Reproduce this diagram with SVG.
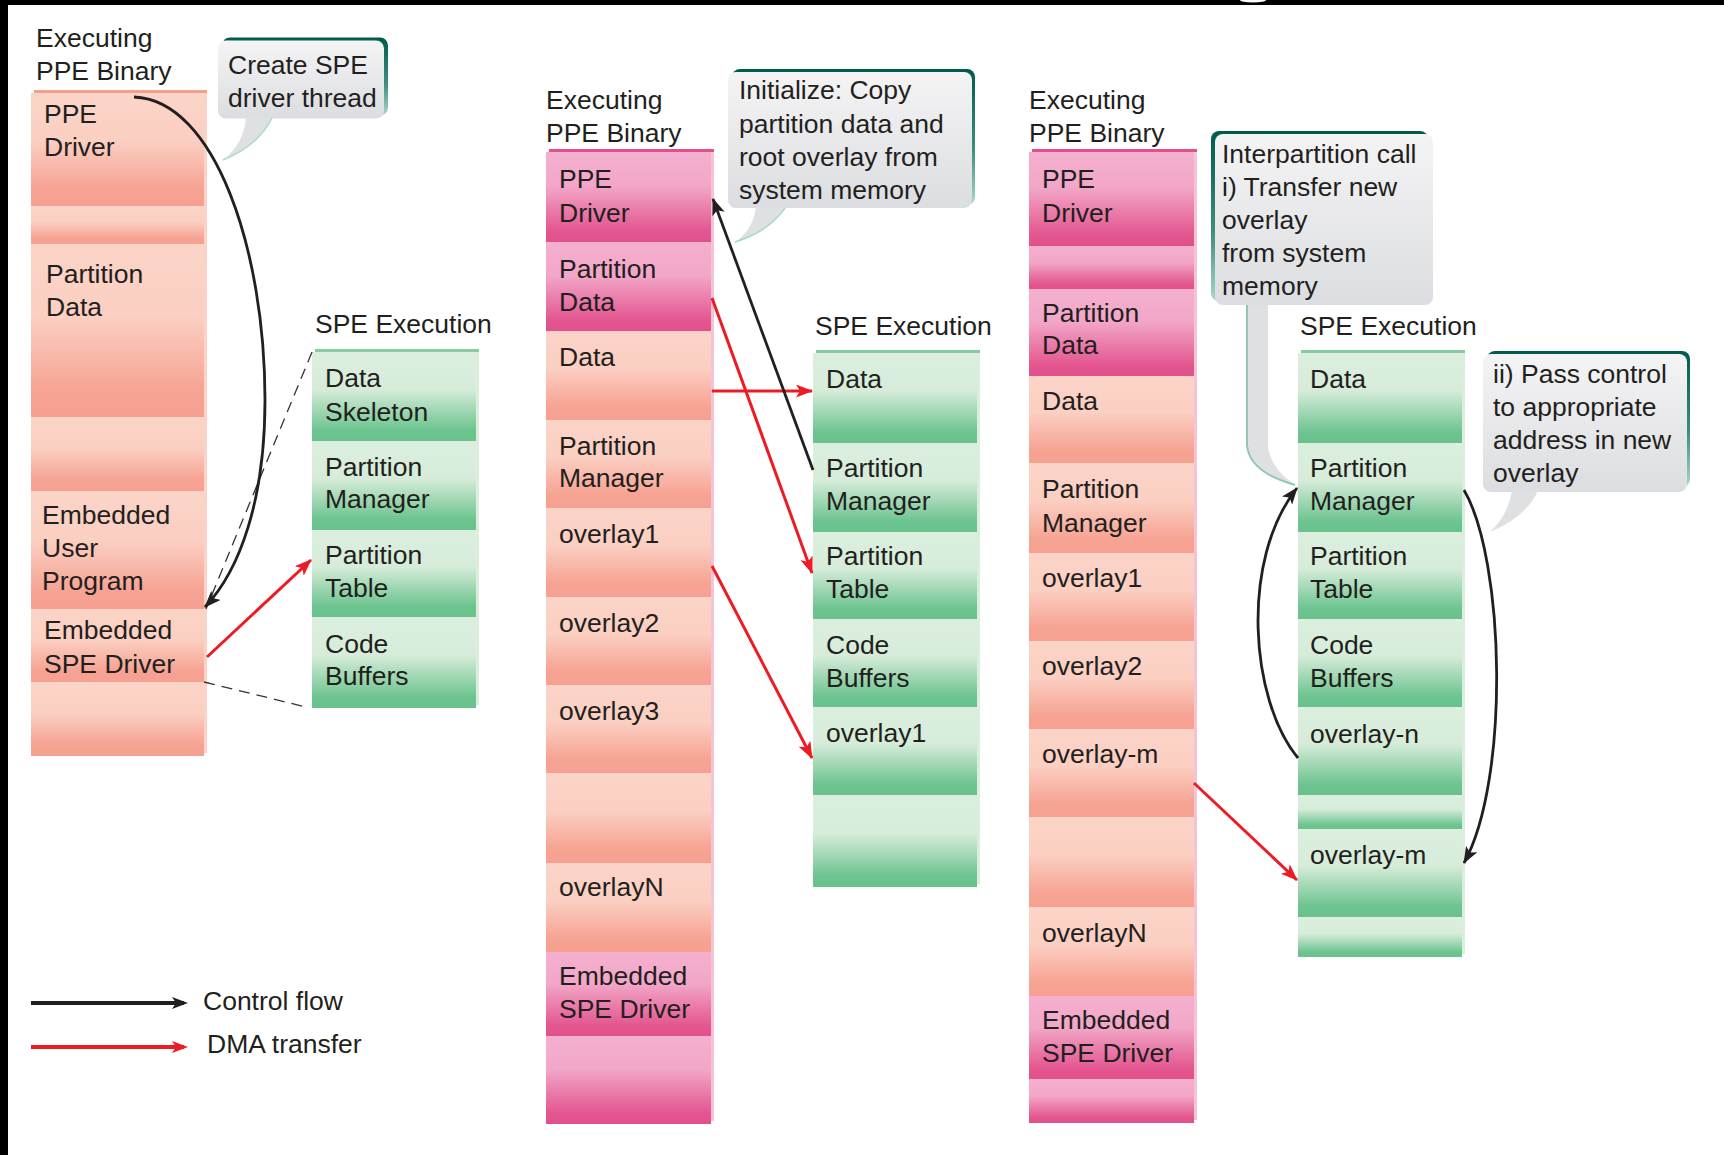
<svg xmlns="http://www.w3.org/2000/svg" width="1724" height="1155" viewBox="0 0 1724 1155">
<defs>
<style>
.t{font-family:"Liberation Sans",Arial,sans-serif;font-size:26.5px;fill:#231f20}
.sal{fill:url(#gSal)}
.pnk{fill:url(#gPnk)}
.grn{fill:url(#gGrn)}
.red{stroke:#ed1c24;stroke-width:3;fill:none;marker-end:url(#mRed)}
.blk{stroke:#231f20;stroke-width:2.8;fill:none;marker-end:url(#mBlk)}
.dash{stroke:#333;stroke-width:1.3;fill:none;stroke-dasharray:11 7}
.cbox{fill:url(#gCall)}
.cshadow{fill:url(#gTeal)}
.tail{fill:#dfe0e2}
</style>
<linearGradient id="gSal" x1="0" y1="0" x2="0" y2="1">
<stop offset="0" stop-color="#fbd4c8"/><stop offset="0.42" stop-color="#fbcfc2"/><stop offset="0.85" stop-color="#f6a393"/><stop offset="1" stop-color="#f6a091"/>
</linearGradient>
<linearGradient id="gPnk" x1="0" y1="0" x2="0" y2="1">
<stop offset="0" stop-color="#f5b0cf"/><stop offset="0.38" stop-color="#f2a6c8"/><stop offset="0.88" stop-color="#e3568f"/><stop offset="1" stop-color="#e2508c"/>
</linearGradient>
<linearGradient id="gGrn" x1="0" y1="0" x2="0" y2="1">
<stop offset="0" stop-color="#dcefdf"/><stop offset="0.42" stop-color="#d6ecd9"/><stop offset="0.88" stop-color="#6dc490"/><stop offset="1" stop-color="#68c28c"/>
</linearGradient>
<linearGradient id="gCall" x1="0" y1="0" x2="0" y2="1">
<stop offset="0" stop-color="#f4f4f5"/><stop offset="1" stop-color="#dcdde0"/>
</linearGradient>
<linearGradient id="gTeal" x1="0" y1="0" x2="0" y2="1">
<stop offset="0" stop-color="#005a4c"/><stop offset="0.6" stop-color="#3f8f80"/><stop offset="1" stop-color="#a9d8cc"/>
</linearGradient>
<marker id="mBlk" markerUnits="userSpaceOnUse" markerWidth="17" markerHeight="13" refX="16" refY="6.5" orient="auto" viewBox="0 0 17 13">
<path d="M0,0 L17,6.5 L0,13 L4,6.5 Z" fill="#231f20"/>
</marker>
<marker id="mRed" markerUnits="userSpaceOnUse" markerWidth="17" markerHeight="13" refX="16" refY="6.5" orient="auto" viewBox="0 0 17 13">
<path d="M0,0 L17,6.5 L0,13 L4,6.5 Z" fill="#ed1c24"/>
</marker>
</defs>

<rect x="0" y="0" width="1724" height="1155" fill="#ffffff"/>
<rect x="0" y="0" width="1724" height="5" fill="#000"/>
<rect x="0" y="0" width="8" height="1155" fill="#000"/>
<ellipse cx="1253" cy="0" rx="13" ry="2.5" fill="#fff"/>

<!-- Column 1: PPE binary -->
<g id="col1-ppe">
<rect x="34" y="90" width="173" height="663" fill="#fbd2c5"/>
<rect x="34" y="90" width="173" height="3" fill="#f49e8d"/>
<text class="t" x="36" y="47">Executing</text>
<text class="t" x="36" y="80">PPE Binary</text>
</g>
<g id="c1-ppe-driver"><rect class="sal" x="31" y="93" width="173" height="113"/><text class="t" x="44" y="123">PPE</text><text class="t" x="44" y="156">Driver</text></g>
<g id="c1-blank1"><rect class="sal" x="31" y="206" width="173" height="38"/></g>
<g id="c1-partition-data"><rect class="sal" x="31" y="244" width="173" height="173"/><text class="t" x="46" y="283">Partition</text><text class="t" x="46" y="316">Data</text></g>
<g id="c1-blank2"><rect class="sal" x="31" y="417" width="173" height="74"/></g>
<g id="c1-user-program"><rect class="sal" x="31" y="491" width="173" height="118"/><text class="t" x="42" y="524">Embedded</text><text class="t" x="42" y="557">User</text><text class="t" x="42" y="590">Program</text></g>
<g id="c1-spe-driver"><rect class="sal" x="31" y="609" width="173" height="73"/><text class="t" x="44" y="639">Embedded</text><text class="t" x="44" y="673">SPE Driver</text></g>
<g id="c1-blank3"><rect class="sal" x="31" y="682" width="173" height="74"/></g>

<!-- Column 1: SPE -->
<g id="col1-spe">
<rect x="315" y="349" width="164" height="356" fill="#d9eedb"/>
<rect x="315" y="349" width="164" height="3" fill="#86cda1"/>
<text class="t" x="315" y="333">SPE Execution</text>
</g>
<g id="c1s-data-skeleton"><rect class="grn" x="312" y="352" width="164" height="89"/><text class="t" x="325" y="387">Data</text><text class="t" x="325" y="421">Skeleton</text></g>
<g id="c1s-partition-manager"><rect class="grn" x="312" y="441" width="164" height="89"/><text class="t" x="325" y="476">Partition</text><text class="t" x="325" y="508">Manager</text></g>
<g id="c1s-partition-table"><rect class="grn" x="312" y="530" width="164" height="87"/><text class="t" x="325" y="564">Partition</text><text class="t" x="325" y="597">Table</text></g>
<g id="c1s-code-buffers"><rect class="grn" x="312" y="617" width="164" height="91"/><text class="t" x="325" y="653">Code</text><text class="t" x="325" y="685">Buffers</text></g>

<!-- Callout 1 -->
<g id="callout1">
<rect class="cshadow" x="222" y="37.5" width="166" height="78" rx="8"/>
<rect class="cbox" x="218" y="40.5" width="166" height="78" rx="8"/>
<path class="tail" d="M246,117 Q244,144 223,160 Q258,146 272,117 Z"/>
<path d="M272,118 Q258,146 223,160" fill="none" stroke="#a9d8cc" stroke-width="1.5"/>
<text class="t" x="228" y="74">Create SPE</text>
<text class="t" x="228" y="107">driver thread</text>
</g>

<!-- Column 2: PPE binary -->
<g id="col2-ppe">
<rect x="549" y="149" width="165" height="972" fill="#f6c2d6"/>
<rect x="549" y="149" width="165" height="3" fill="#e2508c"/>
<text class="t" x="546" y="109">Executing</text>
<text class="t" x="546" y="142">PPE Binary</text>
</g>
<g id="c2-ppe-driver"><rect class="pnk" x="546" y="152" width="165" height="90"/><text class="t" x="559" y="188">PPE</text><text class="t" x="559" y="222">Driver</text></g>
<g id="c2-partition-data"><rect class="pnk" x="546" y="242" width="165" height="89"/><text class="t" x="559" y="278">Partition</text><text class="t" x="559" y="311">Data</text></g>
<g id="c2-data"><rect class="sal" x="546" y="331" width="165" height="89"/><text class="t" x="559" y="366">Data</text></g>
<g id="c2-partition-manager"><rect class="sal" x="546" y="420" width="165" height="88"/><text class="t" x="559" y="455">Partition</text><text class="t" x="559" y="487">Manager</text></g>
<g id="c2-overlay1"><rect class="sal" x="546" y="508" width="165" height="89"/><text class="t" x="559" y="543">overlay1</text></g>
<g id="c2-overlay2"><rect class="sal" x="546" y="597" width="165" height="88"/><text class="t" x="559" y="632">overlay2</text></g>
<g id="c2-overlay3"><rect class="sal" x="546" y="685" width="165" height="88"/><text class="t" x="559" y="720">overlay3</text></g>
<g id="c2-blank"><rect class="sal" x="546" y="773" width="165" height="90"/></g>
<g id="c2-overlayN"><rect class="sal" x="546" y="863" width="165" height="89"/><text class="t" x="559" y="896">overlayN</text></g>
<g id="c2-spe-driver"><rect class="pnk" x="546" y="952" width="165" height="84"/><text class="t" x="559" y="985">Embedded</text><text class="t" x="559" y="1018">SPE Driver</text></g>
<g id="c2-blank2"><rect class="pnk" x="546" y="1036" width="165" height="88"/></g>

<!-- Column 2: SPE -->
<g id="col2-spe">
<rect x="816" y="350" width="164" height="534" fill="#d9eedb"/>
<rect x="816" y="350" width="164" height="3" fill="#86cda1"/>
<text class="t" x="815" y="335">SPE Execution</text>
</g>
<g id="c2s-data"><rect class="grn" x="813" y="353" width="164" height="90"/><text class="t" x="826" y="388">Data</text></g>
<g id="c2s-partition-manager"><rect class="grn" x="813" y="443" width="164" height="89"/><text class="t" x="826" y="477">Partition</text><text class="t" x="826" y="510">Manager</text></g>
<g id="c2s-partition-table"><rect class="grn" x="813" y="532" width="164" height="87"/><text class="t" x="826" y="565">Partition</text><text class="t" x="826" y="598">Table</text></g>
<g id="c2s-code-buffers"><rect class="grn" x="813" y="619" width="164" height="88"/><text class="t" x="826" y="654">Code</text><text class="t" x="826" y="687">Buffers</text></g>
<g id="c2s-overlay1"><rect class="grn" x="813" y="707" width="164" height="88"/><text class="t" x="826" y="742">overlay1</text></g>
<g id="c2s-blank"><rect class="grn" x="813" y="795" width="164" height="92"/></g>

<!-- Callout 2 -->
<g id="callout2">
<rect class="cshadow" x="732" y="69" width="243" height="136" rx="8"/>
<rect class="cbox" x="728" y="72" width="244" height="136" rx="8"/>
<path class="tail" d="M756,207 Q753,230 735,242 Q768,232 785,207 Z"/>
<path d="M785,208 Q768,232 735,242" fill="none" stroke="#a9d8cc" stroke-width="1.5"/>
<text class="t" x="739" y="99">Initialize: Copy</text>
<text class="t" x="739" y="133">partition data and</text>
<text class="t" x="739" y="166">root overlay from</text>
<text class="t" x="739" y="199">system memory</text>
</g>

<!-- Column 3: PPE binary -->
<g id="col3-ppe">
<rect x="1032" y="149" width="165" height="971" fill="#f6c2d6"/>
<rect x="1032" y="149" width="165" height="3" fill="#e2508c"/>
<text class="t" x="1029" y="109">Executing</text>
<text class="t" x="1029" y="142">PPE Binary</text>
</g>
<g id="c3-ppe-driver"><rect class="pnk" x="1029" y="152" width="165" height="94"/><text class="t" x="1042" y="188">PPE</text><text class="t" x="1042" y="222">Driver</text></g>
<g id="c3-blank1"><rect class="pnk" x="1029" y="246" width="165" height="43"/></g>
<g id="c3-partition-data"><rect class="pnk" x="1029" y="289" width="165" height="87"/><text class="t" x="1042" y="322">Partition</text><text class="t" x="1042" y="354">Data</text></g>
<g id="c3-data"><rect class="sal" x="1029" y="376" width="165" height="87"/><text class="t" x="1042" y="410">Data</text></g>
<g id="c3-partition-manager"><rect class="sal" x="1029" y="463" width="165" height="90"/><text class="t" x="1042" y="498">Partition</text><text class="t" x="1042" y="532">Manager</text></g>
<g id="c3-overlay1"><rect class="sal" x="1029" y="553" width="165" height="88"/><text class="t" x="1042" y="587">overlay1</text></g>
<g id="c3-overlay2"><rect class="sal" x="1029" y="641" width="165" height="88"/><text class="t" x="1042" y="675">overlay2</text></g>
<g id="c3-overlay-m"><rect class="sal" x="1029" y="729" width="165" height="88"/><text class="t" x="1042" y="763">overlay-m</text></g>
<g id="c3-blank2"><rect class="sal" x="1029" y="817" width="165" height="90"/></g>
<g id="c3-overlayN"><rect class="sal" x="1029" y="907" width="165" height="89"/><text class="t" x="1042" y="942">overlayN</text></g>
<g id="c3-spe-driver"><rect class="pnk" x="1029" y="996" width="165" height="83"/><text class="t" x="1042" y="1029">Embedded</text><text class="t" x="1042" y="1062">SPE Driver</text></g>
<g id="c3-blank3"><rect class="pnk" x="1029" y="1079" width="165" height="44"/></g>

<!-- Column 3: SPE -->
<g id="col3-spe">
<rect x="1301" y="350" width="164" height="604" fill="#d9eedb"/>
<rect x="1301" y="350" width="164" height="3" fill="#86cda1"/>
<text class="t" x="1300" y="335">SPE Execution</text>
</g>
<g id="c3s-data"><rect class="grn" x="1298" y="353" width="164" height="90"/><text class="t" x="1310" y="388">Data</text></g>
<g id="c3s-partition-manager"><rect class="grn" x="1298" y="443" width="164" height="89"/><text class="t" x="1310" y="477">Partition</text><text class="t" x="1310" y="510">Manager</text></g>
<g id="c3s-partition-table"><rect class="grn" x="1298" y="532" width="164" height="87"/><text class="t" x="1310" y="565">Partition</text><text class="t" x="1310" y="598">Table</text></g>
<g id="c3s-code-buffers"><rect class="grn" x="1298" y="619" width="164" height="88"/><text class="t" x="1310" y="654">Code</text><text class="t" x="1310" y="687">Buffers</text></g>
<g id="c3s-overlay-n"><rect class="grn" x="1298" y="707" width="164" height="88"/><text class="t" x="1310" y="743">overlay-n</text></g>
<g id="c3s-blank1"><rect class="grn" x="1298" y="795" width="164" height="34"/></g>
<g id="c3s-overlay-m"><rect class="grn" x="1298" y="829" width="164" height="88"/><text class="t" x="1310" y="864">overlay-m</text></g>
<g id="c3s-blank2"><rect class="grn" x="1298" y="917" width="164" height="40"/></g>

<!-- Callout 3 -->
<g id="callout3">
<path class="tail" d="M1247,300 L1247,445 Q1249,472 1295,485 Q1272,470 1268,448 L1268,300 Z"/>
<path d="M1247,300 L1247,445 Q1249,472 1295,485" fill="none" stroke="#8fc7b9" stroke-width="2"/>
<rect class="cshadow" x="1211" y="131" width="217" height="170" rx="8"/>
<rect class="cbox" x="1215" y="134" width="218" height="171" rx="8"/>
<text class="t" x="1222" y="163">Interpartition call</text>
<text class="t" x="1222" y="196">i) Transfer new</text>
<text class="t" x="1222" y="229">overlay</text>
<text class="t" x="1222" y="262">from system</text>
<text class="t" x="1222" y="295">memory</text>
</g>

<!-- Callout 4 -->
<g id="callout4">
<rect class="cshadow" x="1487" y="351" width="203" height="136" rx="8"/>
<rect class="cbox" x="1483" y="354" width="204" height="138" rx="8"/>
<path class="tail" d="M1512,491 Q1508,515 1490,532 Q1525,518 1538,491 Z"/>
<text class="t" x="1493" y="383">ii) Pass control</text>
<text class="t" x="1493" y="416">to appropriate</text>
<text class="t" x="1493" y="449">address in new</text>
<text class="t" x="1493" y="482">overlay</text>
</g>

<!-- Connectors -->
<g id="connectors">
<path class="dash" d="M312,352 L206,609"/>
<path class="dash" d="M204,682 L306,707"/>
<path class="blk" d="M134,97 C215,100 265,250 265,400 C265,500 240,570 205,607"/>
<path class="red" d="M207,657 L311,560"/>
<path class="red" d="M712,391 L812,391"/>
<path class="red" d="M712,298 L812,573"/>
<path class="red" d="M712,566 L812,758"/>
<path class="blk" d="M813,470 L713,199"/>
<path class="red" d="M1194,783 L1297,880"/>
<path class="blk" d="M1298,758 C1250,700 1240,560 1297,488"/>
<path class="blk" d="M1464,490 C1505,560 1510,780 1464,863"/>
</g>

<!-- Legend -->
<g id="legend">
<path d="M31,1003 L184,1003" stroke="#231f20" stroke-width="4" fill="none"/>
<path d="M172,997 L188,1003 L172,1009 L176,1003 Z" fill="#231f20"/>
<text class="t" x="203" y="1010">Control flow</text>
<path d="M31,1047 L184,1047" stroke="#ed1c24" stroke-width="4" fill="none"/>
<path d="M172,1041 L188,1047 L172,1053 L176,1047 Z" fill="#ed1c24"/>
<text class="t" x="207" y="1053">DMA transfer</text>
</g>
</svg>
